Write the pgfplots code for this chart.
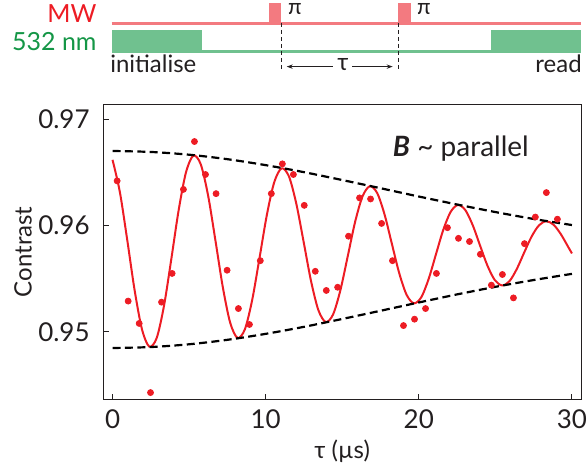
\documentclass[border=0pt]{standalone}
\usepackage{fontspec}
\setmainfont{Lato}
\usepackage{pgfplots}
\pgfplotsset{compat=1.18}
\usetikzlibrary{arrows.meta}

\definecolor{dred}{RGB}{237,28,36}
\definecolor{pulse}{RGB}{243,122,128}
\definecolor{gbar}{RGB}{112,193,143}
\definecolor{gtext}{RGB}{20,150,70}
\definecolor{txt}{RGB}{35,31,32}

\begin{document}
\begin{tikzpicture}[font=\fontsize{12}{14}\selectfont, text=txt]
\begin{axis}[
  at={(0pt,0pt)}, anchor=south west,
  scale only axis, width=239.2pt, height=147.85pt,
  xmin=-0.61, xmax=30.6, ymin=0.94364, ymax=0.97141,
  xtick={0,10,20,30}, ytick={0.95,0.96,0.97},
  scaled y ticks=false,
  yticklabel style={/pgf/number format/fixed, /pgf/number format/precision=2,
    /pgf/number format/fixed zerofill, inner sep=0pt, xshift=-6.6pt},
  xticklabel style={inner sep=0pt, yshift=-5pt},
  /pgf/number format/assume math mode=true,
  tick align=inside, xtick pos=left, ytick pos=left,
  major tick length=3pt,
  axis line style={draw=txt, line width=0.5pt},
  tick style={draw=txt, line width=0.5pt},
  ticklabel style={font=\fontsize{13}{15}\selectfont, text=txt},
  label style={font=\fontsize{14}{16}\selectfont, text=txt, inner sep=0pt},
  every axis x label/.style={at={(axis description cs:0.5,-0.1759)}, anchor=center},
  every axis y label/.style={at={(axis description cs:-0.1678,0.5)}, anchor=center, rotate=90},
  xlabel={τ (µs)}, ylabel={Contrast},
]
% measured points
\addplot[only marks, mark=*, mark size=1.5pt, color=dred] coordinates {
(0.30,0.9642)(1.02,0.9529)(1.74,0.9508)(2.48,0.9443)(3.20,0.9528)(3.89,0.9555)
(4.63,0.9634)(5.35,0.9679)(6.07,0.9648)(6.76,0.9630)(7.48,0.9558)(8.22,0.9522)
(8.94,0.9507)(9.65,0.9567)(10.37,0.9630)(11.09,0.9658)(11.81,0.9648)(12.52,0.9619)
(13.24,0.9557)(13.96,0.9539)(14.70,0.9542)(15.41,0.9590)(16.13,0.9626)(16.85,0.9625)
(17.57,0.9602)(18.28,0.9567)(19.00,0.9506)(19.72,0.9512)(20.44,0.9522)(21.15,0.9555)
(21.87,0.9598)(22.59,0.9588)(23.31,0.9585)(24.02,0.9573)(24.74,0.9544)(25.46,0.9554)
(26.18,0.9532)(26.90,0.9583)(27.61,0.9608)(28.33,0.9631)(29.05,0.9606)
};
% fit
\addplot[smooth, color=dred, line width=1pt] coordinates {
(0,0.96618)(0.48,0.96314)(0.96,0.95865)(1.44,0.95394)(1.92,0.95026)(2.40,0.94862)
(2.88,0.94942)(3.36,0.95245)(3.84,0.95687)(4.32,0.96147)(4.80,0.96502)(5.28,0.96658)
(5.76,0.96576)(6.24,0.96283)(6.72,0.95859)(7.20,0.95422)(7.68,0.95088)(8.16,0.94944)
(8.64,0.95024)(9.12,0.95301)(9.60,0.95697)(10.08,0.96102)(10.56,0.96408)(11.04,0.96538)
(11.52,0.96462)(12.00,0.96206)(12.48,0.95846)(12.96,0.95480)(13.44,0.95206)(13.92,0.95093)
(14.40,0.95164)(14.88,0.95393)(15.36,0.95712)(15.84,0.96034)(16.32,0.96273)(16.80,0.96370)
(17.28,0.96306)(17.76,0.96106)(18.24,0.95829)(18.72,0.95553)(19.20,0.95350)(19.68,0.95269)
(20.16,0.95326)(20.64,0.95497)(21.12,0.95730)(21.60,0.95961)(22.08,0.96129)(22.56,0.96194)
(23.04,0.96145)(23.52,0.96004)(24.00,0.95812)(24.48,0.95624)(24.96,0.95488)(25.44,0.95437)
(25.92,0.95477)(26.40,0.95592)(26.88,0.95746)(27.36,0.95895)(27.84,0.96001)(28.32,0.96041)
(28.80,0.96008)(29.28,0.95918)(29.76,0.95798)(30,0.95738)
};
% envelopes
\addplot[smooth, black, line width=1.1pt, dash pattern=on 4pt off 2.2pt] coordinates {
(0,0.96701)(2.5,0.96692)(5,0.96666)(7.5,0.96624)(10,0.96568)(12.5,0.96502)(15,0.96428)
(17.5,0.96351)(20,0.96273)(22.5,0.96198)(25,0.96127)(27.5,0.96062)(30,0.96005)
};
\addplot[smooth, black, line width=1.1pt, dash pattern=on 4pt off 2.2pt] coordinates {
(0,0.94849)(2.5,0.94858)(5,0.94884)(7.5,0.94926)(10,0.94982)(12.5,0.95048)(15,0.95122)
(17.5,0.95199)(20,0.95277)(22.5,0.95353)(25,0.95424)(27.5,0.95488)(30,0.95546)
};
\end{axis}

% annotation
\node[anchor=base west, font=\fontsize{14}{16}\selectfont] at (141.5pt,121.65pt)
  {\textbf{\textit{B}} \textasciitilde\ parallel};

% pulse sequence
\draw[pulse, line width=1.25pt] (4.2pt,188.15pt) -- (239.2pt,188.15pt);
\fill[pulse] (82.85pt,188.15pt) rectangle (89.2pt,198.35pt);
\fill[pulse] (147.5pt,188.15pt) rectangle (153.85pt,198.35pt);
\fill[gbar] (4.2pt,173.65pt) rectangle (49.35pt,185pt);
\fill[gbar] (49.35pt,173.65pt) rectangle (194.2pt,175pt);
\fill[gbar] (194.2pt,173.65pt) rectangle (239.2pt,185pt);
\draw[txt, line width=0.5pt, dash pattern=on 2pt off 1.5pt] (89.2pt,188.5pt) -- (89.2pt,164pt);
\draw[txt, line width=0.5pt, dash pattern=on 2pt off 1.5pt] (147.85pt,188.5pt) -- (147.85pt,164pt);
\draw[txt, line width=0.5pt, {Stealth[length=3pt,width=2.2pt]}-] (91.85pt,166.65pt) -- (115pt,166.65pt);
\draw[txt, line width=0.5pt, -{Stealth[length=3pt,width=2.2pt]}] (124.7pt,166.65pt) -- (144.85pt,166.65pt);
\node at (120pt,167.5pt) {τ};
\node[anchor=west, font=\fontsize{11}{12}\selectfont, inner sep=0pt] at (92.4pt,195.5pt) {π};
\node[anchor=west, font=\fontsize{11}{12}\selectfont, inner sep=0pt] at (156.9pt,195.5pt) {π};
\node[anchor=east, text=dred, inner sep=0pt, font=\fontsize{12.5}{14}\selectfont] at (-3.15pt,193pt) {MW};
\node[anchor=east, text=gtext, inner sep=0pt, font=\fontsize{12.5}{14}\selectfont] at (-3.15pt,179pt) {532 nm};
\node[anchor=base west, inner sep=0pt] at (3.35pt,163.5pt) {initialise};
\node[anchor=base east, inner sep=0pt] at (239.7pt,163.5pt) {read};

% page size
\path (-51.65pt,-37pt) rectangle (241.85pt,200pt);
\end{tikzpicture}
\end{document}
